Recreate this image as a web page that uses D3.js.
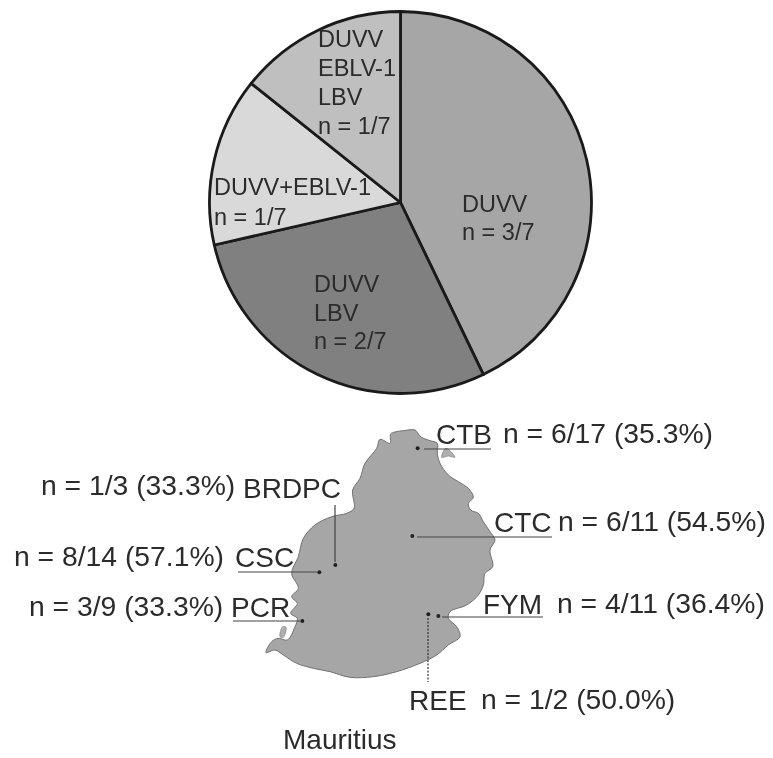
<!DOCTYPE html>
<html><head><meta charset="utf-8">
<script src="https://cdn.jsdelivr.net/npm/d3@7/dist/d3.min.js"></script>
<style>html,body{margin:0;padding:0;background:#fff}svg{display:block;filter:blur(0.55px)}text{font-family:"Liberation Sans",Arial,sans-serif;fill:#2b2b2b;font-size:23.5px}text.name,text.place{font-size:28px}text.count{font-size:28.3px}</style>
</head><body><svg id="c" width="773" height="758"></svg>
<script>
// pie data
const pieCategories = ["DUVV","DUVV LBV","DUVV+EBLV-1","DUVV EBLV-1 LBV"];
const pieValues = [3,2,1,1];
const pieFills = ["#a6a6a6","#808080","#d9d9d9","#bfbfbf"];
const pieLabelLines = [["DUVV","n = 3/7"],["DUVV","LBV","n = 2/7"],["DUVV+EBLV-1","n = 1/7"],["DUVV","EBLV-1","LBV","n = 1/7"]];
// site data
const siteNames = ["CTB","BRDPC","CSC","PCR","CTC","FYM","REE"];
const siteCounts = ["n = 6/17 (35.3%)","n = 1/3 (33.3%)","n = 8/14 (57.1%)","n = 3/9 (33.3%)","n = 6/11 (54.5%)","n = 4/11 (36.4%)","n = 1/2 (50.0%)"];
// site locations, in map units
const siteX = [653,406,358,307,637,715,685];
const siteY = [115,465,487,633,378,618,613];
// island outline, in map units
const islandOutline = [[572,72],[585,66],[610,62],[645,60],[655,72],[665,82],[690,92],[712,100],[712,130],[720,160],[745,195],[775,215],[805,235],[820,262],[805,280],[812,300],[835,310],[850,335],[870,365],[885,390],[870,420],[878,470],[855,490],[850,525],[835,555],[800,585],[750,605],[745,625],[770,650],[780,680],[745,705],[710,735],[660,760],[590,785],[520,800],[450,802],[390,785],[340,775],[290,760],[250,735],[225,720],[198,728],[215,695],[235,685],[262,690],[285,650],[292,625],[272,610],[292,580],[275,560],[295,535],[275,490],[295,440],[310,385],[345,345],[395,320],[440,310],[462,295],[458,240],[480,205],[495,160],[530,115],[540,88],[570,100]];
const islets = [[[240,680],[248,650],[258,652],[250,682]],[[725,142],[738,115],[765,142],[745,138]]];

const svg = d3.select("#c");
// pie
const pieLayout = {cx:400.5,cy:202.5,r:191};
const pie = d3.pie().value(d=>d).sort(null);
const arc = d3.arc().innerRadius(0).outerRadius(pieLayout.r);
const gp = svg.append("g").attr("transform",`translate(${pieLayout.cx},${pieLayout.cy})`);
gp.selectAll("path").data(pie(pieValues)).join("path").attr("d",arc)
  .attr("fill",(d,i)=>pieFills[i]).attr("stroke","#1a1a1a").attr("stroke-width",2.8).attr("stroke-linejoin","round");
const pieLabelPos = [[462,212,28],[314,292,28.5],[214,195,30],[318,47,29]];
pieLabelLines.forEach((lines,i)=>{
  const [x,y,dy]=pieLabelPos[i];
  const t=svg.append("text").attr("x",x).attr("y",y);
  lines.forEach((l,j)=>t.append("tspan").attr("x",x).attr("y",y+j*dy).text(l));
});
// map
const mx = d3.scaleLinear().domain([0,960]).range([200,520]);
const my = d3.scaleLinear().domain([0,870]).range([410,700]);
const line = d3.line().x(d=>mx(d[0])).y(d=>my(d[1])).curve(d3.curveCatmullRomClosed.alpha(0.5));
svg.append("path").attr("d",line(islandOutline)).attr("fill","#a6a6a6").attr("stroke","#707070").attr("stroke-width",1);
svg.selectAll(".islet").data(islets).join("path").attr("class","islet").attr("d",line).attr("fill","#b0b0b0").attr("stroke","#808080").attr("stroke-width",.7);
// leaders: x1,y1,x2,y2 in page px
const leaders = [[424,449,491,449],[335,505,335,562],[238,572,317,572],[233,621,300,621],[417,537,552,537],[442,617,543,617]];
svg.selectAll(".lead").data(leaders).join("line").attr("class","lead")
  .attr("x1",d=>d[0]).attr("y1",d=>d[1]).attr("x2",d=>d[2]).attr("y2",d=>d[3]).attr("stroke","#444").attr("stroke-width",1.2);
svg.append("line").attr("x1",428).attr("y1",618).attr("x2",428).attr("y2",682).attr("stroke","#333").attr("stroke-width",1.2).attr("stroke-dasharray","2 1.5");
svg.selectAll(".site").data(siteNames).join("circle").attr("class","site")
  .attr("cx",(d,i)=>mx(siteX[i])).attr("cy",(d,i)=>my(siteY[i])).attr("r",2).attr("fill","#222");
const nameX=[436,243,235,231,494,483,409], nameY=[444,498,567,617,532,614,710];
const countX=[503,41,14,29,558,557,481], countY=[443,495,566,616,531,613,709];
svg.selectAll(".name").data(siteNames).join("text").attr("class","name").attr("x",(d,i)=>nameX[i]).attr("y",(d,i)=>nameY[i]).text(d=>d);
svg.selectAll(".count").data(siteCounts).join("text").attr("class","count").attr("x",(d,i)=>countX[i]).attr("y",(d,i)=>countY[i]).text(d=>d);
svg.append("text").attr("class","place").attr("x",283).attr("y",749).text("Mauritius");
</script></body></html>
